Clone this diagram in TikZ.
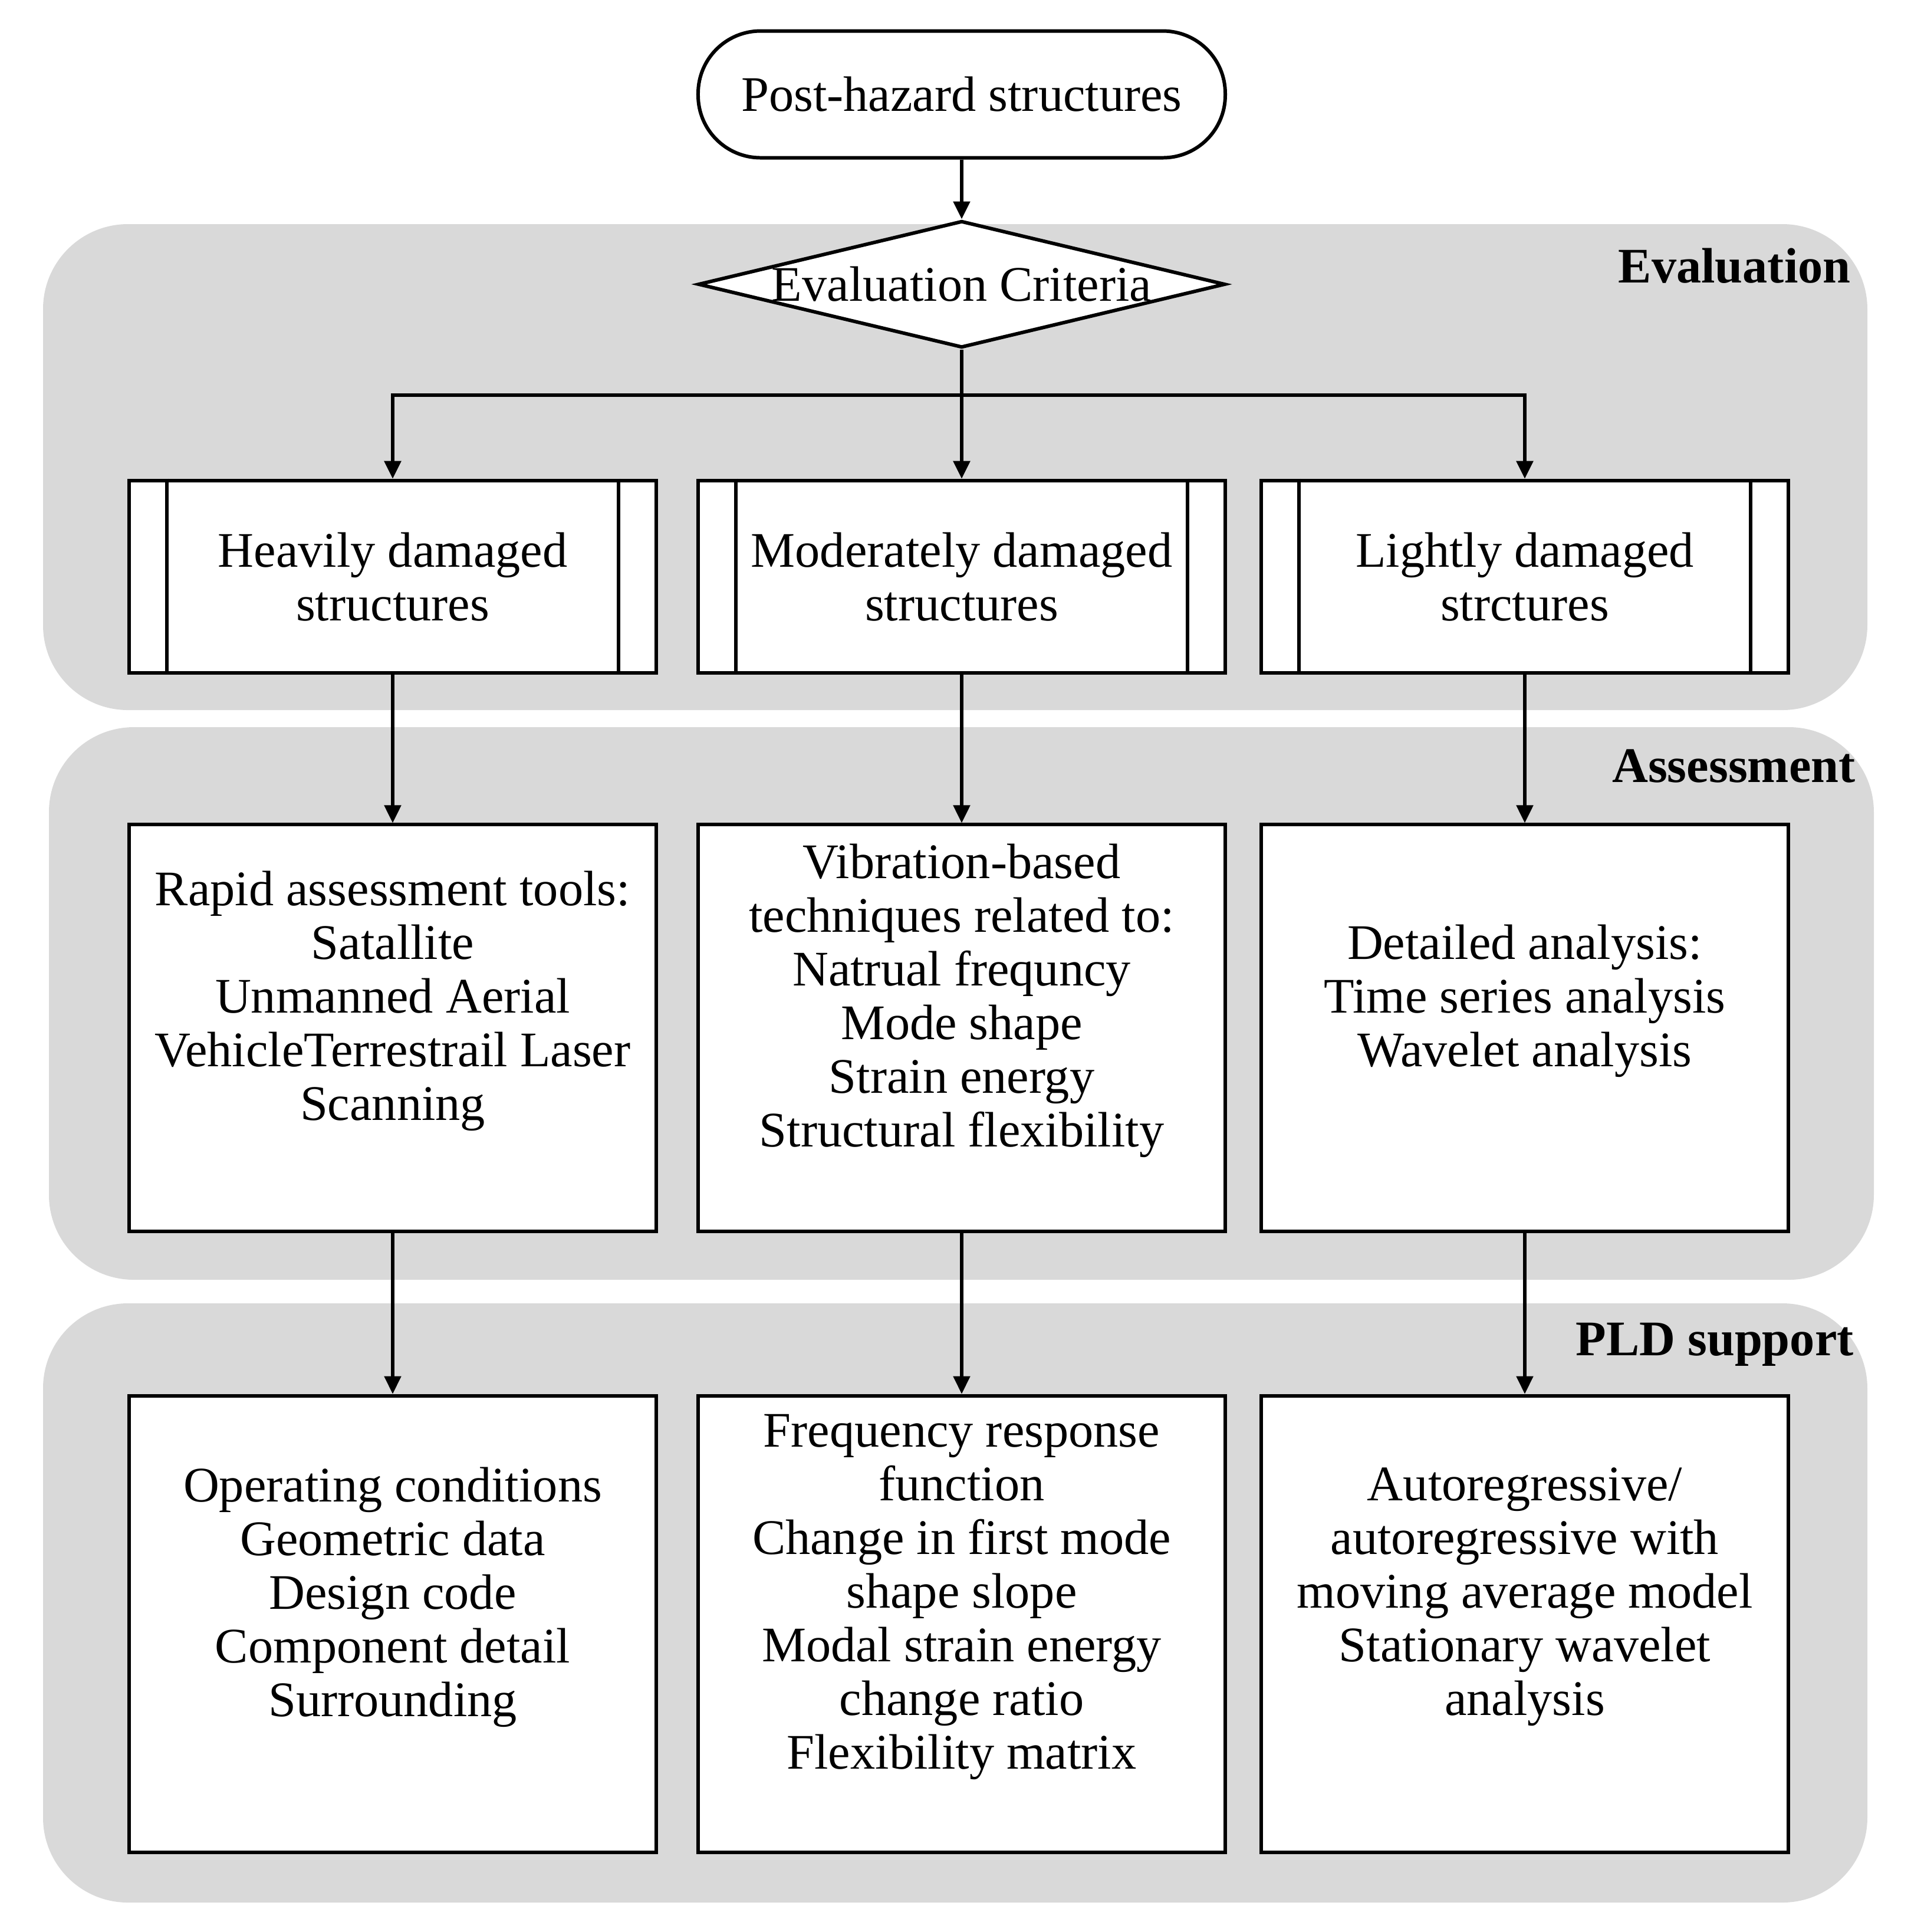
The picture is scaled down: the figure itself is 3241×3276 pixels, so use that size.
\documentclass[tikz,border=0pt]{standalone}
\usepackage{fontspec}
\setmainfont{Liberation Serif}
\usetikzlibrary{shapes.geometric,arrows.meta,positioning}
\definecolor{bandgray}{RGB}{217,217,217}

\begin{document}
\begin{tikzpicture}[x=0.05mm,y=-0.05mm,
    band/.style={fill=bandgray, rounded corners=7.2mm},
    stage/.style={font=\fontsize{12}{13}\selectfont\bfseries, anchor=east, inner sep=0pt},
    box/.style={draw, line width=0.85pt, fill=white, minimum width=44.7mm, inner sep=0pt,
        align=center, font=\fontsize{12}{12.95}\selectfont},
    txt/.style={align=center, font=\fontsize{12}{12.95}\selectfont, inner sep=0pt},
    arr/.style={line width=0.75pt, -{Triangle[length=1.5mm,width=1.4mm]}}]

\useasboundingbox (0,0) rectangle (3241,3276);

% grey bands
\fill[band] (73,380) rectangle (3167,1204);
\fill[band] (83,1233) rectangle (3178,2170);
\fill[band] (73,2210) rectangle (3167,3226);

\node[stage] (evallab) at (3140,451) {Evaluation};
\node[stage] (asslab) at (3148,1299) {Assessment};
\node[stage] (pldlab) at (3145,2280) {PLD support};

% start and decision
\node[box, rounded corners=5.3mm, minimum height=10.75mm] (post) at (1631,160) {Post-hazard structures};
\node[box, diamond, minimum width=44.7mm, minimum height=10.75mm] (crit) at (1631,482) {};
\node[txt] (crittxt) at (crit.center) {Evaluation Criteria};
\coordinate (split) at (1631,670);

% damage levels
\node[box, minimum height=16.33mm] (heavy) at (666,978) {Heavily damaged\\structures};
\node[box, minimum height=16.33mm] (moderate) at (1631,978) {Moderately damaged\\structures};
\node[box, minimum height=16.33mm] (light) at (2586,978) {Lightly damaged\\strctures};

\foreach \n in {heavy,moderate,light} {
  \draw[line width=0.85pt] ([xshift=3.35mm]\n.north west) -- ([xshift=3.35mm]\n.south west);
  \draw[line width=0.85pt] ([xshift=-3.35mm]\n.north east) -- ([xshift=-3.35mm]\n.south east);
}

% assessment
\node[box, minimum height=34.46mm] (rapid) at (666,1743) {};
\node[box, minimum height=34.46mm] (vibration) at (1631,1743) {};
\node[box, minimum height=34.46mm] (detailed) at (2586,1743) {};

\node[txt] (rapidtxt) at ([yshift=2.3mm]rapid.center) {Rapid assessment tools:\\Satallite\\Unmanned Aerial\\VehicleTerrestrail Laser\\Scanning};
\node[txt] (vibrationtxt) at ([yshift=2.3mm]vibration.center) {Vibration-based\\techniques related to:\\Natrual frequncy\\Mode shape\\Strain energy\\Structural flexibility};
\node[txt] (detailedtxt) at ([yshift=2.3mm]detailed.center) {Detailed analysis:\\Time series analysis\\Wavelet analysis};

% PLD support
\node[box, minimum height=38.74mm] (operating) at (666,2754) {};
\node[box, minimum height=38.74mm] (frf) at (1631,2754) {};
\node[box, minimum height=38.74mm] (arma) at (2586,2754) {};

\node[txt] (operatingtxt) at ([yshift=2.3mm]operating.center) {Operating conditions\\Geometric data\\Design code\\Component detail\\Surrounding};
\node[txt] (frftxt) at ([yshift=2.3mm]frf.center) {Frequency response\\function\\Change in first mode\\shape slope\\Modal strain energy\\change ratio\\Flexibility matrix};
\node[txt] (armatxt) at ([yshift=2.3mm]arma.center) {Autoregressive/\\autoregressive with\\moving average model\\Stationary wavelet\\analysis};

% arrows
\draw[arr] (post.south) -- (crit.north);
\draw[arr] (crit.south) -- (moderate.north);
\draw[arr] (split) -| (heavy.north);
\draw[arr] (split) -| (light.north);

\foreach \a/\b in {heavy/rapid,moderate/vibration,light/detailed,rapid/operating,vibration/frf,detailed/arma}
  \draw[arr] (\a.south) -- (\b.north);

\end{tikzpicture}
\end{document}
